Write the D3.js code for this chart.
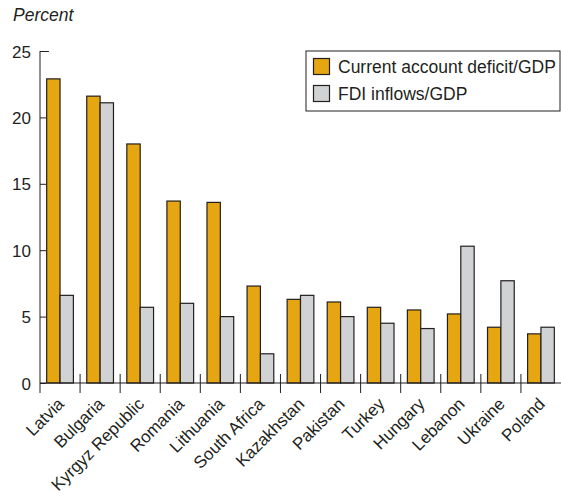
<!DOCTYPE html>
<html><head><meta charset="utf-8">
<script src="https://cdn.jsdelivr.net/npm/d3@7"></script>
<style>body{margin:0;background:#fff}svg{display:block}text{font-family:"Liberation Sans",Arial,sans-serif;fill:#231f20}</style>
</head><body>
<svg id="c" width="561" height="496"></svg>
<script>
const countries = ["Latvia","Bulgaria","Kyrgyz Republic","Romania","Lithuania","South Africa","Kazakhstan","Pakistan","Turkey","Hungary","Lebanon","Ukraine","Poland"];
const currentAccountDeficit = [22.9,21.6,18.0,13.7,13.6,7.3,6.3,6.1,5.7,5.5,5.2,4.2,3.7];
const fdiInflows = [6.6,21.1,5.7,6.0,5.0,2.2,6.6,5.0,4.5,4.1,10.3,7.7,4.2];
const seriesNames = ["Current account deficit/GDP","FDI inflows/GDP"];
const seriesColors = ["#e6a612","#d1d2d4"];
const yTicks = [0,5,10,15,20,25];

const svg = d3.select("#c");
const x0 = 40, x1 = 561, yTop = 51, yBot = 383;
const x = d3.scaleBand().domain(countries).range([x0,x1]).padding(0);
const xs = d3.scaleBand().domain([0,1]).range([0,x.bandwidth()]).paddingInner(0).paddingOuter(0.5);
const y = d3.scaleLinear().domain([0,25]).range([yBot,yTop]);
const fs = 17.5;

// bars
const data = countries.map((c,i)=>({c, v:[currentAccountDeficit[i], fdiInflows[i]]}));
const g = svg.append("g");
g.selectAll("g.grp").data(data).join("g").attr("class","grp")
  .attr("transform", d=>`translate(${x(d.c)},0)`)
  .selectAll("rect").data(d=>d.v.map((v,k)=>({v,k}))).join("rect")
  .attr("x", d=>xs(d.k)).attr("width", xs.bandwidth())
  .attr("y", d=>y(d.v)).attr("height", d=>y(0)-y(d.v))
  .attr("fill", d=>seriesColors[d.k]).attr("stroke","#231f20").attr("stroke-width",1.2);

// y axis
const ya = d3.axisLeft(y).tickValues(yTicks).tickSizeInner(-6).tickSizeOuter(0).tickPadding(9);
const yg = svg.append("g").attr("transform",`translate(${x0},0)`).call(ya);
yg.select(".domain").remove();
yg.selectAll(".tick line").attr("stroke","#231f20");
yg.selectAll(".tick text").style("font-size","17px").attr("font-family",null).attr("fill","#231f20").attr("dy","0.36em");
yg.select(".tick:last-of-type line").attr("x2",9);
svg.append("line").attr("x1",x0).attr("x2",x0).attr("y1",yTop).attr("y2",yBot+10).attr("stroke","#231f20").attr("stroke-width",1);

// x axis
svg.append("line").attr("x1",x0).attr("x2",x1).attr("y1",yBot).attr("y2",yBot).attr("stroke","#231f20").attr("stroke-width",1.2);
svg.append("g").selectAll("line").data(countries.slice(1)).join("line")
  .attr("x1",d=>x(d)).attr("x2",d=>x(d)).attr("y1",yBot-9).attr("y2",yBot+10).attr("stroke","#231f20");
svg.append("g").selectAll("text").data(countries).join("text")
  .attr("transform",d=>`translate(${x(d)+x.bandwidth()/2+5},${yBot+22}) rotate(-45)`)
  .attr("text-anchor","end").style("font-size","17px").text(d=>d);

// title
svg.append("text").attr("x",13).attr("y",21).style("font-size",fs+"px").style("font-style","italic").text("Percent");

// legend
const lg = svg.append("g");
lg.append("rect").attr("x",306).attr("y",51).attr("width",254).attr("height",60).attr("fill","#fff").attr("stroke","#231f20").attr("stroke-width",1);
seriesNames.forEach((n,i)=>{
  lg.append("rect").attr("x",313.5).attr("y",58.5+i*27).attr("width",16).attr("height",16).attr("fill",seriesColors[i]).attr("stroke","#231f20").attr("stroke-width",1.2);
  lg.append("text").attr("x",338).attr("y",73+i*27).style("font-size",fs+"px").text(n);
});
</script>
</body></html>
